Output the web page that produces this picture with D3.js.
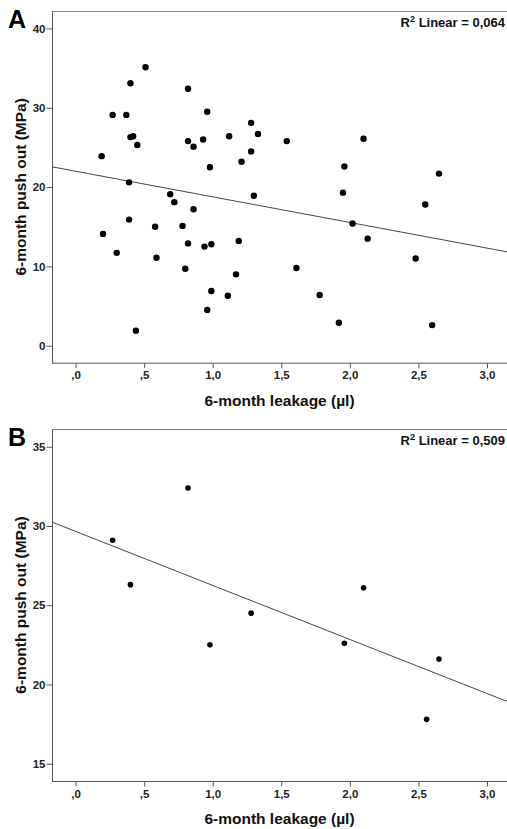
<!DOCTYPE html>
<html><head><meta charset="utf-8">
<script src="https://cdn.jsdelivr.net/npm/d3@7"></script>
<style>
body{margin:0;background:#fff;}
svg{display:block;font-family:"Liberation Sans",Arial,sans-serif;}
</style></head>
<body><svg id="c" width="507" height="829"></svg>
<script>
// Panel A data (6-month leakage µl, 6-month push out MPa)
const leakA = [0.19,0.27,0.37,0.40,0.51,0.40,0.42,0.45,0.39,0.82,0.96,0.82,0.86,0.93,0.98,1.12,1.21,1.28,1.33,1.28,1.30,0.69,1.54,2.10,1.96,2.65,1.95,0.72,0.86,0.39,0.20,0.58,0.78,0.82,0.94,0.99,1.19,0.30,0.59,0.80,1.17,0.99,1.11,0.96,0.44,2.55,2.02,2.13,2.48,1.61,1.78,1.92,2.60];
const pushA = [23.9,29.1,29.1,33.1,35.1,26.3,26.4,25.3,20.6,32.4,29.5,25.8,25.1,26.0,22.5,26.4,23.2,28.1,26.7,24.5,18.9,19.1,25.8,26.1,22.6,21.7,19.3,18.1,17.2,15.9,14.1,15.0,15.1,12.9,12.5,12.8,13.2,11.7,11.1,9.7,9.0,6.9,6.3,4.5,1.9,17.8,15.4,13.5,11.0,9.8,6.4,2.9,2.6];
// Panel B data
const leakB = [0.27,0.40,0.82,1.28,2.10,0.98,1.96,2.65,2.56];
const pushB = [29.1,26.3,32.4,24.5,26.1,22.5,22.6,21.6,17.8];
// Fit lines (intercept, slope) and R²
const fitA = [22.0,-3.23];
const fitB = [29.66,-3.41];
const r2A = "0,064";
const r2B = "0,509";
const xTicks = [0,0.5,1,1.5,2,2.5,3];
const yTicksA = [0,10,20,30,40];
const yTicksB = [15,20,25,30,35];
const fmtX = d => d.toFixed(1).replace(/^0/,"").replace(".",",");

const svg = d3.select("#c");
const L = 52, R = 507;

function panel(cfg){
  const g = svg.append("g");
  const x = d3.scaleLinear().domain([-0.172,3.146]).range([L,R]);
  const y = d3.scaleLinear().domain(cfg.ydom).range([cfg.bottom,cfg.top]);
  // top border
  g.append("line").attr("x1",L).attr("x2",R).attr("y1",cfg.top+0.5).attr("y2",cfg.top+0.5)
    .attr("stroke","#8a8a8a").attr("stroke-width",1);
  // y axis
  const ya = g.append("g").attr("transform",`translate(${L+0.5},0)`)
    .call(d3.axisLeft(y).tickValues(cfg.yticks).tickSize(6).tickPadding(1).tickSizeOuter(0));
  ya.select(".domain").attr("d",`M0,${cfg.top}V${cfg.bottom}`);
  // x axis
  const xa = g.append("g").attr("transform",`translate(0,${cfg.bottom+0.5})`)
    .call(d3.axisBottom(x).tickValues(xTicks).tickFormat(fmtX).tickSize(5).tickPadding(3).tickSizeOuter(0));
  xa.select(".domain").attr("d",`M${L},0H${R}`);
  [ya,xa].forEach(a=>{
    a.selectAll(".domain").attr("stroke","#555");
    a.selectAll(".tick line").attr("stroke","#555");
    a.selectAll(".tick text").attr("fill","#222").style("font-size","11.5px").style("font-weight","bold")
      .style("font-family","'Liberation Sans',Arial,sans-serif");
  });
  // regression line
  const x0 = x.domain()[0], x1 = x.domain()[1];
  g.append("line").attr("x1",x(x0)).attr("y1",y(cfg.fit[0]+cfg.fit[1]*x0))
    .attr("x2",x(x1)).attr("y2",y(cfg.fit[0]+cfg.fit[1]*x1))
    .attr("stroke","#444").attr("stroke-width",1);
  // points
  g.selectAll("circle").data(cfg.xs.map((v,i)=>[v,cfg.ys[i]])).join("circle")
    .attr("cx",d=>x(d[0])).attr("cy",d=>y(d[1])).attr("r",cfg.r).attr("fill","#000");
  // R² label
  const t = g.append("text").attr("x",505).attr("y",cfg.top+16).attr("text-anchor","end")
    .style("font-size","13px").style("font-weight","bold").attr("fill","#111");
  t.append("tspan").text("R");
  t.append("tspan").attr("dy",-5).style("font-size","9px").text("2");
  t.append("tspan").attr("dy",5).text(" Linear = "+cfg.r2);
  // panel letter
  g.append("text").attr("x",8).attr("y",cfg.top+17).style("font-size","25px").style("font-weight","bold")
    .text(cfg.letter);
  // axis titles
  g.append("text").attr("x",(L+R)/2).attr("y",cfg.bottom+43).attr("text-anchor","middle")
    .style("font-size","15.5px").style("font-weight","bold").attr("fill","#111").text("6-month leakage (µl)");
  g.append("text").attr("transform",`translate(26,${(cfg.top+cfg.bottom)/2}) rotate(-90)`)
    .attr("text-anchor","middle").style("font-size","15.5px").style("font-weight","bold").attr("fill","#111")
    .text("6-month push out (MPa)");
}

panel({top:11,bottom:362.7,ydom:[-2.14,42.2],yticks:yTicksA,xs:leakA,ys:pushA,fit:fitA,r2:r2A,letter:"A",r:3.2});
panel({top:429,bottom:781,ydom:[13.91,36.12],yticks:yTicksB,xs:leakB,ys:pushB,fit:fitB,r2:r2B,letter:"B",r:2.8});
</script></body></html>
